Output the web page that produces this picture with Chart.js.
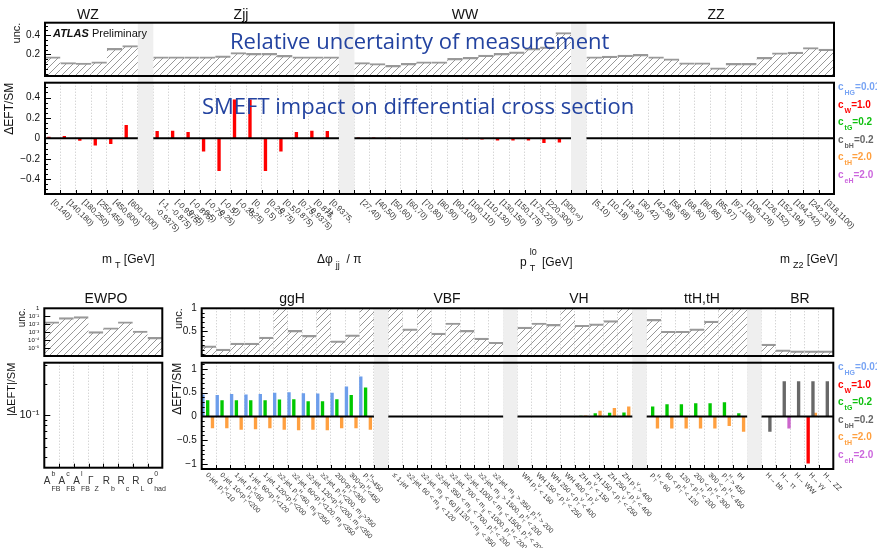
<!DOCTYPE html>
<html lang="en">
<head>
<meta charset="UTF-8">
<title>SMEFT impact on differential cross sections</title>
<script src="https://cdn.jsdelivr.net/npm/chart.js"></script>
<style>
  body { margin: 0; background: #fff; font-family: 'Liberation Sans', Arial, sans-serif; }
  #page { position: relative; width: 877px; height: 548px; overflow: hidden; }
  canvas { position: absolute; }
  .ttl { position: absolute; font-size: 14px; color: #111; transform: translateX(-50%); white-space: nowrap; line-height: 1; }
  .big { position: absolute; font-family: 'Open Sans', 'Noto Sans', sans-serif; font-size: 22px; color: #2343a0; white-space: nowrap; line-height: 1; }
  .axt { position: absolute; font-size: 12px; color: #111; white-space: nowrap; line-height: 1; }
  .axt sub { font-size: 9px; vertical-align: -5px; margin-left: 3px; }
  .ss { display: inline-block; position: relative; width: 12px; height: 10px; }
  .ss i { font-style: normal; font-size: 9px; position: absolute; left: 3px; }
  .leg { position: absolute; font-size: 10px; font-weight: bold; line-height: 11.6px; white-space: nowrap; }
  .leg sub { font-size: 7px; vertical-align: -5px; margin-left: 1px; }
  .atlas { position: absolute; left: 53px; top: 27px; font-size: 11px; color: #111; white-space: nowrap; }
</style>
</head>
<body>
<div id="page">
  <canvas id="topUnc" width="840" height="60" style="left:0;top:18px"></canvas>
  <canvas id="topImp" width="877" height="202" style="left:0;top:78px"></canvas>
  <canvas id="ewpoUnc" width="170" height="58" style="left:0;top:300px"></canvas>
  <canvas id="ewpoImp" width="170" height="190" style="left:0;top:358px"></canvas>
  <canvas id="mainUnc" width="676" height="58" style="left:162px;top:300px"></canvas>
  <canvas id="mainImp" width="715" height="190" style="left:162px;top:358px"></canvas>

  <div class="ttl" style="left:88px;top:7px">WZ</div>
  <div class="ttl" style="left:241px;top:7px">Zjj</div>
  <div class="ttl" style="left:465px;top:7px">WW</div>
  <div class="ttl" style="left:716px;top:7px">ZZ</div>
  <div class="ttl" style="left:106px;top:291px">EWPO</div>
  <div class="ttl" style="left:292px;top:291px">ggH</div>
  <div class="ttl" style="left:447px;top:291px">VBF</div>
  <div class="ttl" style="left:579px;top:291px">VH</div>
  <div class="ttl" style="left:702px;top:291px">ttH,tH</div>
  <div class="ttl" style="left:800px;top:291px">BR</div>

  <div class="atlas"><b><i>ATLAS</i></b> Preliminary</div>
  <div class="big" style="left:230px;top:29px">Relative uncertainty of measurement</div>
  <div class="big" style="left:202px;top:94px">SMEFT impact on differential cross section</div>

  <div class="axt" style="left:102px;top:253px">m<sub>T</sub> [GeV]</div>
  <div class="axt" style="left:317px;top:253px">Δφ<sub>jj</sub> &nbsp;/ π</div>
  <div class="axt" style="left:520px;top:256px">p<span class="ss"><i style="top:-8px">l0</i><i style="top:8px">T</i></span> [GeV]</div>
  <div class="axt" style="left:780px;top:253px">m<sub>Z2</sub> [GeV]</div>

  <div class="leg" style="left:838px;top:81px">
    <div style="color:#78a4f4">c<sub>HG</sub>=0.01</div>
    <div style="color:#ff0000">c<sub>W</sub>=1.0</div>
    <div style="color:#10c010">c<sub>tG</sub>=0.2</div>
    <div style="color:#666666">c<sub>bH</sub>=0.2</div>
    <div style="color:#ffa040">c<sub>tH</sub>=2.0</div>
    <div style="color:#cc66dd">c<sub>eH</sub>=2.0</div>
  </div>
  <div class="leg" style="left:838px;top:361px">
    <div style="color:#78a4f4">c<sub>HG</sub>=0.01</div>
    <div style="color:#ff0000">c<sub>W</sub>=1.0</div>
    <div style="color:#10c010">c<sub>tG</sub>=0.2</div>
    <div style="color:#666666">c<sub>bH</sub>=0.2</div>
    <div style="color:#ffa040">c<sub>tH</sub>=2.0</div>
    <div style="color:#cc66dd">c<sub>eH</sub>=2.0</div>
  </div>
</div>

<script>
// ---- top row: differential measurements ----
const wzLabels = ['[0,140)', '[140,180)', '[180,250)', '[250,450)', '[450,600)', '[600,1000)'];
const zjjLabels = [['[-1,', '-0.9375)'], ['[-0.9375,', '-0.875)'], ['[-0.875,', '-0.75)'], ['[-0.75,', '-0.5)'],
  ['[-0.5,', '-0.25)'], ['[-0.25,', '0)'], ['[0,', '0.25)'], ['[0.25,', '0.5)'], ['[0.5,', '0.75)'],
  ['[0.75,', '0.875)'], ['[0.875,', '0.9375)'], ['[0.9375,', '1)']];
const wwLabels = ['[27,40)', '[40,50)', '[50,60)', '[60,70)', '[70,80)', '[80,90)', '[90,100)', '[100,110)',
  '[110,130)', '[130,150)', '[150,175)', '[175,220)', '[220,300)', '[300,∞)'];
const zzLabels = ['[5,10)', '[10,18)', '[18,30)', '[30,42)', '[42,58)', '[58,68)', '[68,80)', '[80,85)',
  '[85,97)', '[97,106)', '[106,126)', '[126,152)', '[152,194)', '[194,242)', '[242,318)', '[318,1100)'];

const wzUnc = [0.175, 0.116, 0.11, 0.123, 0.262, 0.293];
const zjjUnc = [0.175, 0.175, 0.175, 0.175, 0.185, 0.22, 0.21, 0.21, 0.19, 0.175, 0.175, 0.175];
const wwUnc = [0.116, 0.105, 0.086, 0.107, 0.123, 0.123, 0.158, 0.169, 0.193, 0.21, 0.227, 0.262, 0.279, 0.428];
const zzUnc = [0.175, 0.182, 0.193, 0.2, 0.175, 0.155, 0.113, 0.113, 0.061, 0.107, 0.107, 0.169, 0.217, 0.224, 0.272, 0.255];

const wzCW = [0.016, 0.023, -0.023, -0.07, -0.055, 0.13];
const zjjCW = [0.071, 0.074, 0.061, -0.13, -0.32, 0.38, 0.38, -0.32, -0.13, 0.061, 0.074, 0.071];
const wwCW = [0.008, 0.008, 0.005, 0.001, 0, -0.002, -0.005, -0.008, -0.012, -0.02, -0.02, -0.02, -0.045, -0.04];

// ---- bottom row: EWPO, STXS bins and branching ratios ----
const ewpoLabels = ['A_{FB}^{b}', 'A_{FB}^{c}', 'A_{FB}^{l}', 'Γ_{Z}', 'R_{b}', 'R_{c}', 'R_{L}', 'σ_{had}^{0}'];
const ewpoUnc = [0.0205, 0.066, 0.088, 0.00114, 0.0036, 0.0205, 0.0014, 0.00022];

const ggHLabels = ['0-jet, p_{T}^{H}<10', '0-jet, 10<p_{T}^{H}<200', '1-jet, p_{T}^{H}<60', '1-jet, 60<p_{T}^{H}<120',
  '1-jet, 120<p_{T}^{H}<200', '≥2-jet, p_{T}^{H}<60, m_{jj}<350', '≥2-jet, 60<p_{T}^{H}<120, m_{jj}<350',
  '≥2-jet, 120<p_{T}^{H}<200, m_{jj}<350', '≥2-jet, p_{T}^{H}<200, m_{jj}>350', '200<p_{T}^{H}<300',
  '300<p_{T}^{H}<450', 'p_{T}^{H}>450'];
const vbfLabels = ['≤ 1-jet', '≥2-jet, 60 < m_{jj} < 120', '≥2-jet, m_{jj} < 60 || 120 < m_{jj} < 350',
  '≥2-jet, 350 < m_{jj} < 700, p_{T}^{H} < 200', '≥2-jet, 700 < m_{jj} < 1000, p_{T}^{H} < 200',
  '≥2-jet, 1000 < m_{jj} < 1500, p_{T}^{H} < 200', '≥2-jet, m_{jj} > 1500, p_{T}^{H} < 200',
  '≥2-jet, m_{jj} > 350, p_{T}^{H} > 200'];
const vhLabels = ['WH p_{T}^{V} < 150', 'WH 150 < p_{T}^{V} < 250', 'WH 250 < p_{T}^{V} < 400', 'WH 400 < p_{T}^{V}',
  'ZH p_{T}^{V} < 150', 'ZH 150 < p_{T}^{V} < 250', 'ZH 250 < p_{T}^{V} < 400', 'ZH p_{T}^{V} > 400'];
const tthLabels = ['p_{T}^{H} < 60', '60 < p_{T}^{H} < 120', '120 < p_{T}^{H} < 200', '200 < p_{T}^{H} < 300',
  '300 < p_{T}^{H} < 450', 'p_{T}^{H} > 450', 'tH'];
const brLabels = ['H→ bb', 'H→ ττ', 'H→ WW', 'H→ γγ', 'H→ ZZ'];

const ggHUnc = [0.18, 0.11, 0.24, 0.24, 0.37, 1.2, 0.52, 0.41, 1.2, 0.29, 0.42, 1.2];
const vbfUnc = [1.2, 0.55, 1.2, 0.46, 0.68, 0.52, 0.35, 0.26];
const vhUnc = [0.59, 0.68, 0.65, 1.2, 0.63, 0.66, 0.73, 1.2];
const tthUnc = [0.76, 0.5, 0.5, 0.55, 0.72, 1.2, 1.2];
const brUnc = [0.22, 0.095, 0.073, 0.07, 0.07];

const ggHcHG = [0.46, 0.45, 0.47, 0.46, 0.47, 0.50, 0.51, 0.49, 0.48, 0.50, 0.63, 0.84];
const ggHctG = [0.34, 0.34, 0.34, 0.34, 0.34, 0.355, 0.36, 0.32, 0.32, 0.36, 0.45, 0.61];
const ggHctH = [-0.25, -0.25, -0.28, -0.27, -0.25, -0.28, -0.29, -0.28, -0.29, -0.25, -0.25, -0.28];
const vhctG = [null, null, null, null, 0.015, 0.065, 0.08, 0.085];
const vhctH = [null, null, null, null, 0.02, 0.12, 0.18, 0.21];
const tthctG = [0.21, 0.255, 0.255, 0.28, 0.28, 0.30, 0.065];
const tthctH = [-0.255, -0.255, -0.255, -0.255, -0.255, -0.2, -0.32];
const brcW = [null, null, null, -0.99, null];
const brcbH = [-0.32, 0.74, 0.74, 0.74, 0.74];
const brctH = [null, null, null, 0.08, null];
const brceH = [null, -0.255, null, null, null];

const coeffNames = ['cHG', 'cW', 'ctG', 'cbH', 'ctH', 'ceH'];
const coeffColors = ['#6d9eeb', '#ff0000', '#00c800', '#686868', '#ffa040', '#cc66cc'];

// ---- helpers ----
const FONT = "'Liberation Sans', Arial, sans-serif";
const blank = n => Array(n).fill(null);
function joinGroups(groups, fill) {
  const out = [];
  groups.forEach((g, i) => { if (i) out.push(fill); out.push(...g); });
  return out;
}
function gapsOf(sizes) {
  const g = []; let p = 0;
  sizes.slice(0, -1).forEach(s => { p += s; g.push(p); p += 1; });
  return g;
}
function minorTicks(min, max, step) {
  const out = [];
  for (let v = Math.ceil(min / step) * step; v <= max + 1e-9; v += step) out.push(v);
  return out;
}
function logMinor(lo, hi) {
  const out = [];
  for (let e = lo; e < hi; e++) for (let k = 2; k < 10; k++) out.push(k * Math.pow(10, e));
  return out;
}
function parseRich(s) {
  const out = []; let buf = ''; let i = 0;
  while (i < s.length) {
    const c = s[i];
    if ((c === '_' || c === '^') && s[i + 1] === '{') {
      if (buf) { out.push({ t: buf, k: 'n' }); buf = ''; }
      const j = s.indexOf('}', i);
      out.push({ t: s.slice(i + 2, j), k: c === '_' ? 'sub' : 'sup' });
      i = j + 1;
    } else { buf += c; i++; }
  }
  if (buf) out.push({ t: buf, k: 'n' });
  return out;
}
function drawRich(ctx, s, x, y, size, subDy, supDy) {
  const toks = parseRich(s); let cx = x; let i = 0;
  const small = Math.max(5, Math.round(size * 0.72));
  while (i < toks.length) {
    if (toks[i].k === 'n') {
      ctx.font = size + 'px ' + FONT;
      ctx.fillText(toks[i].t, cx, y);
      cx += ctx.measureText(toks[i].t).width; i++;
    } else {
      let w = 0;
      ctx.font = small + 'px ' + FONT;
      while (i < toks.length && toks[i].k !== 'n') {
        const t = toks[i];
        ctx.fillText(t.t, cx + 1, y + (t.k === 'sub' ? subDy : supDy));
        w = Math.max(w, ctx.measureText(t.t).width + 1); i++;
      }
      cx += w;
    }
  }
}
function hatch() {
  const c = document.createElement('canvas'); c.width = 7; c.height = 7;
  const g = c.getContext('2d');
  g.strokeStyle = '#8c8c8c'; g.lineWidth = 0.9;
  g.beginPath();
  g.moveTo(0, 7); g.lineTo(7, 0);
  g.moveTo(-1, 1); g.lineTo(1, -1);
  g.moveTo(6, 8); g.lineTo(8, 6);
  g.stroke();
  return g.createPattern(c, 'repeat');
}
const fmtLin = v => v < 0 ? '−' + (-v) : String(v);
const supDigits = { '-': '⁻', '0': '⁰', '1': '¹', '2': '²', '3': '³', '4': '⁴', '5': '⁵', '6': '⁶' };
const fmtLog = v => {
  const e = Math.round(Math.log10(v));
  return e === 0 ? '1' : '10' + String(e).split('').map(ch => supDigits[ch]).join('');
};

const panelPlugin = {
  id: 'panel',
  beforeDatasetsDraw(chart, args, o) {
    const { ctx, chartArea: a, scales: { x } } = chart;
    const w = (a.right - a.left) / chart.data.labels.length;
    const ext = o.bandExt || [0, 0];
    ctx.save();
    ctx.fillStyle = '#efefef';
    (o.gaps || []).forEach(g => {
      const c = x.getPixelForValue(g);
      ctx.fillRect(c - w / 2, a.top - ext[0], w, a.bottom - a.top + ext[0] + ext[1]);
    });
    ctx.restore();
  },
  afterDraw(chart, args, o) {
    const { ctx, chartArea: a, scales: { x, y } } = chart;
    const n = chart.data.labels.length;
    const w = (a.right - a.left) / n;
    const gaps = o.gaps || [];
    ctx.save();
    // zero line, broken at the gaps
    if (o.zero) {
      const yy = y.getPixelForValue(0);
      ctx.strokeStyle = '#000'; ctx.lineWidth = 2;
      let s = 0;
      [...gaps, n].forEach(g => {
        ctx.beginPath();
        ctx.moveTo(x.getPixelForValue(s) - w / 2, yy);
        ctx.lineTo(x.getPixelForValue(g - 1) + w / 2, yy);
        ctx.stroke();
        s = g + 1;
      });
    }
    // inward ticks
    ctx.strokeStyle = '#000'; ctx.lineWidth = 1;
    const tick = (v, len) => {
      const p = Math.round(y.getPixelForValue(v)) + 0.5;
      if (p < a.top || p > a.bottom) return;
      ctx.beginPath(); ctx.moveTo(a.left, p); ctx.lineTo(a.left + len, p); ctx.stroke();
    };
    (o.minor || []).forEach(v => tick(v, 3));
    y.ticks.forEach(t => tick(t.value, 6));
    if (o.xticks) {
      for (let i = 1; i < n; i++) {
        const px = Math.round(x.getPixelForValue(i) - w / 2) + 0.5;
        ctx.beginPath(); ctx.moveTo(px, a.bottom); ctx.lineTo(px, a.bottom - 4); ctx.stroke();
      }
    }
    // frame
    ctx.lineWidth = 2;
    ctx.strokeRect(a.left, a.top, a.right - a.left, a.bottom - a.top);
    // category labels
    if (o.labels) {
      const L = o.labels;
      ctx.fillStyle = '#333';
      chart.data.labels.forEach((lab, i) => {
        if (!lab) return;
        const lines = Array.isArray(lab) ? lab : [lab];
        if (L.mode === 'rot') {
          ctx.save();
          ctx.translate(x.getPixelForValue(i) + L.dx, a.bottom + L.dy);
          ctx.rotate(Math.PI / 4);
          ctx.textBaseline = 'middle'; ctx.textAlign = 'left';
          lines.forEach((ln, k) => drawRich(ctx, ln, k * L.indent, k * L.lineH, L.size, L.size * 0.4, -L.size * 0.45));
          ctx.restore();
        } else {
          ctx.textBaseline = 'alphabetic'; ctx.textAlign = 'left';
          drawRich(ctx, lines[0], x.getPixelForValue(i) - w / 2 + L.dx, a.bottom + L.dy, L.size, 7, -8);
        }
      });
    }
    ctx.restore();
  }
};
Chart.register(panelPlugin);

Chart.defaults.font.family = FONT;
Chart.defaults.color = '#111';
Chart.defaults.animation = false;
Chart.defaults.responsive = false;
Chart.defaults.plugins.legend.display = false;
Chart.defaults.plugins.tooltip.enabled = false;

// fixed axis boxes so that the plot areas land where the panels are
function yAxis(o) {
  return {
    type: o.type || 'linear', min: o.min, max: o.max, position: 'left',
    afterFit: s => { s.width = o.width; s.paddingTop = 0; s.paddingBottom = 0; },
    afterBuildTicks: s => { s.ticks = o.ticks.map(v => ({ value: v })); },
    grid: { display: false, drawTicks: false },
    border: { display: false },
    ticks: { padding: 5, autoSkip: false, font: { size: o.fs || 10 }, color: '#111', callback: o.fmt || fmtLin },
    title: { display: true, text: o.title, align: 'end', font: { size: o.tfs || 11 }, color: '#111',
      padding: { top: o.tpad, bottom: 0 } }
  };
}
function xAxis(o) {
  return {
    type: 'category', offset: true, display: o.display !== false,
    afterFit: s => { s.height = o.height || 0; s.paddingLeft = 0; s.paddingRight = 0; },
    ticks: { display: false },
    grid: { display: !!o.grid, offset: true, color: '#c4c4c4', lineWidth: 1, drawTicks: false },
    border: { display: false, dash: [1, 2] }
  };
}
function uncDataset(data, base) {
  return {
    data, base, backgroundColor: hatch(), borderColor: '#999', borderSkipped: false,
    borderWidth: { top: 1.5, left: 0, right: 0, bottom: 0 },
    categoryPercentage: 1, barPercentage: 1
  };
}
function coeffDatasets(series, barPct) {
  return series.map((data, k) => ({
    label: coeffNames[k], data, backgroundColor: coeffColors[k],
    categoryPercentage: 1, barPercentage: barPct
  }));
}

// ---- top row ----
const topLabels = joinGroups([wzLabels, zjjLabels, wwLabels, zzLabels], '');
const topGaps = gapsOf([wzLabels.length, zjjLabels.length, wwLabels.length, zzLabels.length]);
const topUncData = joinGroups([wzUnc, zjjUnc, wwUnc, zzUnc], null);
const topCW = joinGroups([wzCW, zjjCW, wwCW, blank(zzLabels.length)], null);
const topNone = blank(topLabels.length);

new Chart(document.getElementById('topUnc'), {
  type: 'bar',
  data: { labels: topLabels, datasets: [uncDataset(topUncData, -0.025)] },
  options: {
    layout: { padding: { top: 4.7, right: 6, bottom: 2, left: 0 } },
    scales: {
      x: xAxis({ display: false }),
      y: yAxis({ min: -0.025, max: 0.53, ticks: [0.2, 0.4], width: 45, title: 'unc.', tpad: 10 })
    },
    plugins: { panel: { gaps: topGaps, bandExt: [0, 2], minor: minorTicks(0, 0.5, 0.05) } }
  }
});

new Chart(document.getElementById('topImp'), {
  type: 'bar',
  data: {
    labels: topLabels,
    datasets: coeffDatasets([topNone, topCW, topNone, topNone, topNone, topNone], 1.3)
  },
  options: {
    layout: { padding: { top: 4.7, right: 43, bottom: 0, left: 0 } },
    scales: {
      x: xAxis({ height: 86, grid: true }),
      y: yAxis({ min: -0.545, max: 0.545, ticks: [-0.4, -0.2, 0, 0.2, 0.4], width: 45,
        title: 'ΔEFT/SM', tfs: 12, tpad: 2 })
    },
    plugins: { panel: { gaps: topGaps, bandExt: [4.7, 0], zero: true, xticks: true, minor: minorTicks(-0.5, 0.5, 0.05),
      labels: { mode: 'rot', size: 8, dx: 0, dy: 7, lineH: 9, indent: 3 } } }
  }
});

// ---- bottom row: EWPO ----
new Chart(document.getElementById('ewpoUnc'), {
  type: 'bar',
  data: { labels: ewpoLabels, datasets: [uncDataset(ewpoUnc, 1e-6)] },
  options: {
    layout: { padding: { top: 8.3, right: 7.7, bottom: 2, left: 0 } },
    scales: {
      x: xAxis({ display: false }),
      y: yAxis({ type: 'logarithmic', min: 1e-6, max: 1, ticks: [1e-5, 1e-4, 1e-3, 1e-2, 1e-1, 1],
        width: 44.3, fs: 6, fmt: fmtLog, title: 'unc.', tfs: 10, tpad: 16 })
    },
    plugins: { panel: {} }
  }
});

new Chart(document.getElementById('ewpoImp'), {
  type: 'bar',
  data: { labels: ewpoLabels, datasets: [] },
  options: {
    layout: { padding: { top: 4.7, right: 7.7, bottom: 0, left: 0 } },
    scales: {
      x: xAxis({ height: 80.3, grid: true }),
      y: yAxis({ type: 'logarithmic', min: 0.0316, max: 0.316, ticks: [0.1], width: 44.3, fs: 11,
        fmt: fmtLog, title: '|ΔEFT|/SM', tfs: 11, tpad: 5 })
    },
    plugins: { panel: { xticks: true, minor: logMinor(-2, 0),
      labels: { mode: 'flat', size: 10, dx: -0.5, dy: 16 } } }
  }
});

// ---- bottom row: STXS + BR ----
const mainSizes = [ggHLabels.length, vbfLabels.length, vhLabels.length, tthLabels.length, brLabels.length];
const mainLabels = joinGroups([ggHLabels, vbfLabels, vhLabels, tthLabels, brLabels], '');
const mainGaps = gapsOf(mainSizes);
const mainUncData = joinGroups([ggHUnc, vbfUnc, vhUnc, tthUnc, brUnc], null);
const B = mainSizes.map(blank);
const mainSeries = [
  joinGroups([ggHcHG, B[1], B[2], B[3], B[4]], null),
  joinGroups([B[0], B[1], B[2], B[3], brcW], null),
  joinGroups([ggHctG, B[1], vhctG, tthctG, B[4]], null),
  joinGroups([B[0], B[1], B[2], B[3], brcbH], null),
  joinGroups([ggHctH, B[1], vhctH, tthctH, brctH], null),
  joinGroups([B[0], B[1], B[2], B[3], brceH], null)
];

new Chart(document.getElementById('mainUnc'), {
  type: 'bar',
  data: { labels: mainLabels, datasets: [uncDataset(mainUncData, -0.04)] },
  options: {
    layout: { padding: { top: 8.3, right: 4.7, bottom: 2, left: 0 } },
    scales: {
      x: xAxis({ height: 0, grid: true }),
      y: yAxis({ min: -0.04, max: 1.0, ticks: [0.5, 1], width: 39.7, title: 'unc.', tpad: 10 })
    },
    plugins: { panel: { gaps: mainGaps, bandExt: [0, 2], minor: minorTicks(0, 1, 0.1) } }
  }
});

new Chart(document.getElementById('mainImp'), {
  type: 'bar',
  data: { labels: mainLabels, datasets: coeffDatasets(mainSeries, 1.4) },
  options: {
    layout: { padding: { top: 4.7, right: 43.7, bottom: 0, left: 0 } },
    scales: {
      x: xAxis({ height: 79, grid: true }),
      y: yAxis({ min: -1.105, max: 1.13, ticks: [-1, -0.5, 0, 0.5, 1], width: 39.7,
        title: 'ΔEFT/SM', tfs: 12, tpad: 8 })
    },
    plugins: { panel: { gaps: mainGaps, bandExt: [4.7, 0], zero: true, xticks: true, minor: minorTicks(-1.1, 1.1, 0.1),
      labels: { mode: 'rot', size: 7, dx: -2, dy: 5, lineH: 8, indent: 0 } } }
  }
});
</script>
</body>
</html>
